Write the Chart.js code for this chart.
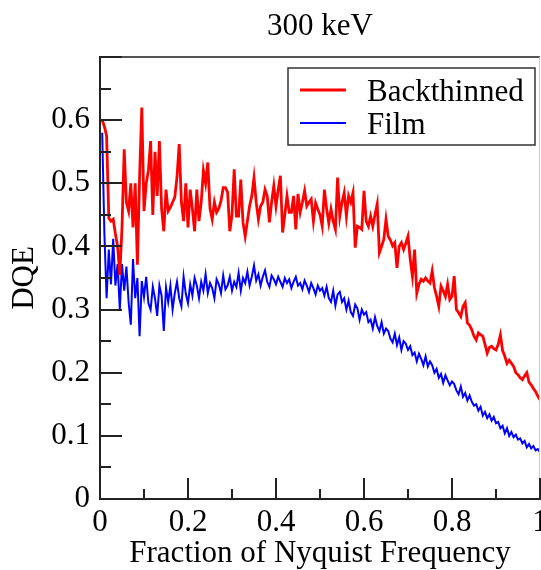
<!DOCTYPE html>
<html>
<head>
<meta charset="utf-8">
<script src="https://cdn.jsdelivr.net/npm/chart.js@4.4.1/dist/chart.umd.min.js"></script>
<style>
  html, body { margin: 0; padding: 0; background: #fff; }
  #wrap { width: 541px; height: 570px; }
</style>
</head>
<body>
<div id="wrap"><canvas id="dqeChart" width="541" height="570"></canvas></div>
<script>
// Data (fraction of Nyquist, DQE)
const freq = [
  0.005,0.010,0.015,0.020,0.025,0.030,0.035,0.040,0.045,0.050,
  0.055,0.060,0.065,0.070,0.075,0.080,0.085,0.090,0.095,0.100,
  0.105,0.110,0.115,0.120,0.125,0.130,0.135,0.140,0.145,0.150,
  0.155,0.160,0.165,0.170,0.175,0.180,0.185,0.190,0.195,0.200,
  0.205,0.210,0.215,0.220,0.225,0.230,0.235,0.240,0.245,0.250,
  0.255,0.260,0.265,0.270,0.275,0.280,0.285,0.290,0.295,0.300,
  0.305,0.310,0.315,0.320,0.325,0.330,0.335,0.340,0.345,0.350,
  0.355,0.360,0.365,0.370,0.375,0.380,0.385,0.390,0.395,0.400,
  0.405,0.410,0.415,0.420,0.425,0.430,0.435,0.440,0.445,0.450,
  0.455,0.460,0.465,0.470,0.475,0.480,0.485,0.490,0.495,0.500,
  0.505,0.510,0.515,0.520,0.525,0.530,0.535,0.540,0.545,0.550,
  0.555,0.560,0.565,0.570,0.575,0.580,0.585,0.590,0.595,0.600,
  0.605,0.610,0.615,0.620,0.625,0.630,0.635,0.640,0.645,0.650,
  0.655,0.660,0.665,0.670,0.675,0.680,0.685,0.690,0.695,0.700,
  0.705,0.710,0.715,0.720,0.725,0.730,0.735,0.740,0.745,0.750,
  0.755,0.760,0.765,0.770,0.775,0.780,0.785,0.790,0.795,0.800,
  0.805,0.810,0.815,0.820,0.825,0.830,0.835,0.840,0.845,0.850,
  0.855,0.860,0.865,0.870,0.875,0.880,0.885,0.890,0.895,0.900,
  0.905,0.910,0.915,0.920,0.925,0.930,0.935,0.940,0.945,0.950,
  0.955,0.960,0.965,0.970,0.975,0.980,0.985,0.990,0.995,1.000
];

const backthinned = [
  0.600,0.590,0.575,0.445,0.440,0.443,0.420,0.400,0.355,0.430,
  0.554,0.470,0.456,0.500,0.430,0.500,0.371,0.510,0.620,0.456,
  0.500,0.520,0.567,0.450,0.550,0.480,0.567,0.460,0.424,0.490,
  0.456,0.462,0.470,0.478,0.510,0.562,0.470,0.440,0.500,0.430,
  0.490,0.460,0.424,0.490,0.440,0.470,0.520,0.500,0.533,0.460,
  0.443,0.470,0.454,0.460,0.472,0.493,0.493,0.486,0.424,0.450,
  0.522,0.448,0.448,0.506,0.438,0.416,0.440,0.464,0.480,0.509,
  0.470,0.443,0.464,0.470,0.490,0.480,0.438,0.470,0.496,0.464,
  0.490,0.512,0.422,0.450,0.480,0.454,0.454,0.480,0.427,0.483,
  0.454,0.470,0.488,0.464,0.470,0.475,0.440,0.469,0.459,0.450,
  0.432,0.490,0.460,0.437,0.459,0.440,0.427,0.509,0.448,0.470,
  0.485,0.448,0.480,0.470,0.485,0.398,0.432,0.430,0.427,0.488,
  0.440,0.432,0.448,0.432,0.450,0.467,0.390,0.400,0.411,0.443,
  0.416,0.410,0.401,0.406,0.366,0.400,0.406,0.395,0.405,0.416,
  0.380,0.353,0.395,0.326,0.340,0.348,0.345,0.350,0.345,0.342,
  0.361,0.335,0.321,0.305,0.337,0.330,0.321,0.340,0.316,0.321,
  0.353,0.300,0.295,0.289,0.305,0.311,0.279,0.275,0.268,0.258,
  0.252,0.263,0.260,0.258,0.245,0.231,0.240,0.242,0.238,0.236,
  0.245,0.260,0.235,0.226,0.215,0.220,0.215,0.210,0.200,0.197,
  0.192,0.189,0.195,0.200,0.185,0.181,0.175,0.170,0.163,0.157
];

const film = [
  0.580,0.420,0.318,0.395,0.340,0.412,0.338,0.372,0.300,0.372,
  0.330,0.368,0.312,0.276,0.380,0.318,0.350,0.258,0.345,0.320,
  0.352,0.310,0.300,0.336,0.318,0.290,0.338,0.322,0.266,0.335,
  0.312,0.338,0.300,0.326,0.344,0.318,0.305,0.352,0.325,0.310,
  0.340,0.322,0.350,0.338,0.318,0.344,0.330,0.356,0.326,0.342,
  0.334,0.318,0.348,0.340,0.326,0.354,0.332,0.338,0.352,0.330,
  0.344,0.336,0.358,0.330,0.350,0.342,0.360,0.338,0.352,0.370,
  0.346,0.356,0.338,0.352,0.362,0.344,0.336,0.354,0.348,0.340,
  0.352,0.344,0.336,0.350,0.342,0.348,0.334,0.344,0.352,0.338,
  0.342,0.332,0.346,0.338,0.328,0.342,0.334,0.324,0.338,0.330,
  0.334,0.322,0.336,0.318,0.312,0.330,0.306,0.324,0.328,0.312,
  0.318,0.300,0.314,0.296,0.290,0.308,0.302,0.284,0.300,0.292,
  0.296,0.280,0.284,0.270,0.288,0.274,0.266,0.280,0.262,0.270,
  0.266,0.254,0.248,0.262,0.244,0.256,0.236,0.250,0.246,0.236,
  0.242,0.228,0.232,0.218,0.230,0.222,0.212,0.226,0.210,0.218,
  0.212,0.200,0.206,0.192,0.198,0.184,0.196,0.188,0.180,0.186,
  0.182,0.172,0.166,0.178,0.162,0.168,0.156,0.164,0.154,0.148,
  0.150,0.140,0.146,0.132,0.138,0.128,0.134,0.124,0.130,0.120,
  0.122,0.112,0.116,0.104,0.112,0.100,0.106,0.098,0.102,0.094,
  0.096,0.088,0.092,0.082,0.087,0.080,0.084,0.077,0.079,0.074
];

const seriesNames = ['Backthinned', 'Film'];
const seriesColors = ['#ff0000', '#0000ff'];
const chartTitle = '300 keV';
const xTitle = 'Fraction of Nyquist Frequency';
const yTitle = 'DQE';

const FONT = '"Liberation Serif", "Times New Roman", serif';
const FSIZE = 31;

// axis frame, inward ticks, title and boxed legend (Grace style)
const gracePlugin = {
  id: 'grace',
  afterDraw(chart) {
    const ctx = chart.ctx;
    const a = chart.chartArea;
    const xs = chart.scales.x, ys = chart.scales.y;
    ctx.save();

    // top + right frame
    ctx.strokeStyle = '#555';
    ctx.lineWidth = 2;
    ctx.beginPath();
    ctx.moveTo(a.left, a.top); ctx.lineTo(a.right, a.top);
    ctx.stroke();
    ctx.strokeStyle = '#ccc';
    ctx.lineWidth = 1;
    ctx.beginPath();
    ctx.moveTo(a.right - 0.5, a.top); ctx.lineTo(a.right - 0.5, a.bottom);
    ctx.stroke();

    // inward ticks
    ctx.strokeStyle = '#222';
    ctx.lineWidth = 2;
    ctx.beginPath();
    for (let i = 0; i <= 14; i++) {
      const y = Math.round(ys.getPixelForValue(i * 0.05));
      const len = i % 2 === 0 ? 22 : 11;
      ctx.moveTo(a.left, y); ctx.lineTo(a.left + len, y);
    }
    for (let i = 0; i <= 10; i++) {
      const x = Math.round(xs.getPixelForValue(i * 0.1));
      const len = i % 2 === 0 ? 21 : 10;
      ctx.moveTo(x, a.bottom); ctx.lineTo(x, a.bottom - len);
    }
    ctx.stroke();

    // chart title
    ctx.fillStyle = '#000';
    ctx.font = FSIZE + 'px ' + FONT;
    ctx.textAlign = 'center';
    ctx.textBaseline = 'alphabetic';
    ctx.fillText(chartTitle, (a.left + a.right) / 2, 35);

    // legend box
    const bx = a.left + 188, by = a.top + 11, bw = 247, bh = 77;
    ctx.fillStyle = '#fff';
    ctx.fillRect(bx, by, bw, bh);
    ctx.strokeStyle = '#333';
    ctx.lineWidth = 1.5;
    ctx.strokeRect(bx, by, bw, bh);
    const widths = [3, 2];
    seriesNames.forEach((name, i) => {
      const ly = by + 22 + i * 33;
      ctx.strokeStyle = seriesColors[i];
      ctx.lineWidth = widths[i];
      ctx.beginPath();
      ctx.moveTo(bx + 12, ly); ctx.lineTo(bx + 58, ly);
      ctx.stroke();
      ctx.fillStyle = '#000';
      ctx.textAlign = 'left';
      ctx.fillText(name, bx + 79, ly + 11);
    });
    ctx.restore();
  }
};

const ctx = document.getElementById('dqeChart').getContext('2d');
new Chart(ctx, {
  type: 'line',
  data: {
    datasets: [
      {
        label: seriesNames[0],
        data: freq.map((f, i) => ({ x: f, y: backthinned[i] })),
        borderColor: seriesColors[0],
        borderWidth: 2.8,
        pointRadius: 0,
        tension: 0
      },
      {
        label: seriesNames[1],
        data: freq.map((f, i) => ({ x: f, y: film[i] })),
        borderColor: seriesColors[1],
        borderWidth: 2,
        pointRadius: 0,
        tension: 0
      }
    ]
  },
  options: {
    responsive: false,
    animation: false,
    layout: { padding: { top: 57, left: 0, right: 1, bottom: 0 } },
    plugins: {
      legend: { display: false },
      tooltip: { enabled: false },
      title: { display: false }
    },
    scales: {
      x: {
        type: 'linear',
        min: 0,
        max: 1,
        grid: { display: false, drawTicks: false },
        border: { display: true, color: '#222', width: 2 },
        ticks: {
          stepSize: 0.2,
          padding: 5,
          color: '#000',
          maxRotation: 0,
          font: { family: FONT, size: FSIZE },
          callback: v => String(Math.round(v * 10) / 10)
        },
        title: {
          display: true,
          text: xTitle,
          color: '#000',
          font: { family: FONT, size: FSIZE },
          padding: { top: 0, bottom: -2 }
        },
        afterFit: s => { s.height = 71; s.paddingLeft = 0; s.paddingRight = 0; }
      },
      y: {
        min: 0,
        max: 0.7,
        grid: { display: false, drawTicks: false },
        border: { display: true, color: '#222', width: 2 },
        ticks: {
          stepSize: 0.1,
          padding: 10,
          color: '#000',
          font: { family: FONT, size: FSIZE },
          callback: v => v > 0.65 ? '' : String(Math.round(v * 10) / 10)
        },
        title: {
          display: true,
          text: yTitle,
          color: '#000',
          font: { family: FONT, size: FSIZE },
          padding: { top: 6, bottom: 0 }
        },
        afterFit: s => { s.width = 100; }
      }
    }
  },
  plugins: [gracePlugin]
});
</script>
</body>
</html>
